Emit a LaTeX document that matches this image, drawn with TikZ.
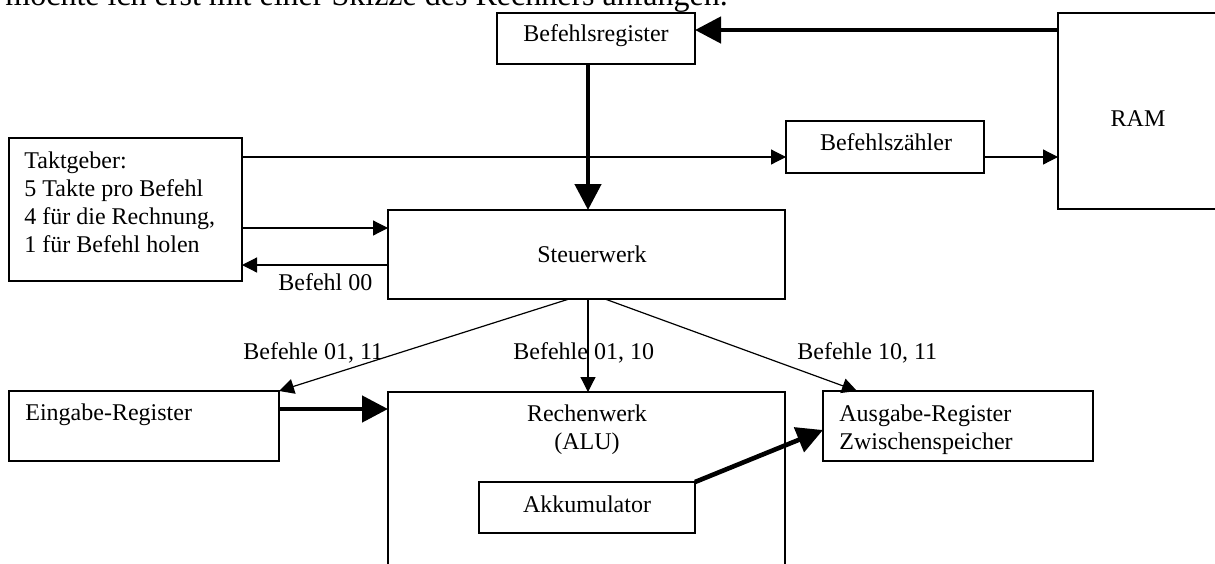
\documentclass[tikz,border=0pt]{standalone}
\usepackage{fontspec}
\setmainfont{Liberation Serif}
\usetikzlibrary{arrows.meta}

\begin{document}
\begin{tikzpicture}[
    x=0.5pt, y=-0.5pt,
    box/.style={draw, line width=0.6pt, inner sep=0pt, outer sep=0pt},
    lbl/.style={font=\fontsize{12}{13.9}\selectfont, inner sep=0pt},
    conn/.style={-{Triangle[length=7.5pt, width=7.5pt]}, line width=0.6pt},
    bus/.style={-{Triangle[length=13pt, width=13pt]}, line width=2.3pt},
]

% === Frame ===
\useasboundingbox (0,0) rectangle (1215,563);
\clip (0,0) rectangle (1215,563);

% cut-off line of running text above the sketch
\node[lbl, font=\fontsize{16}{18}\selectfont, anchor=base west] (intro) at (5,5)
    {möchte ich erst mit einer Skizze des Rechners anfangen.};

% --- Top row ---
\node[box, minimum width=99pt, minimum height=25.5pt] (breg) at (596,38.5) {};
\node[lbl, anchor=base] (bregT) at (596,41) {Befehlsregister};

\node[box, minimum width=83pt, minimum height=98pt] (ram) at (1141,111) {};
\node[lbl, anchor=base] (ramT) at (1138,126) {RAM};

\node[box, minimum width=99pt, minimum height=26pt] (bzaehl) at (885,147) {};
\node[lbl, anchor=base] (bzaehlT) at (886,150) {Befehlszähler};

% --- Middle row ---
\node[box, minimum width=116.5pt, minimum height=71.5pt] (takt) at (125.5,209.5) {};
\node[lbl, anchor=base west, align=left] (taktT) at (24,252)
    {Taktgeber:\\5 Takte pro Befehl\\4 für die Rechnung,\\1 für Befehl holen};

\node[box, minimum width=198.5pt, minimum height=44.5pt] (steuer) at (586.5,254.5) {};
\node[lbl, anchor=base] (steuerT) at (592,262) {Steuerwerk};

% --- Bottom row ---
\node[box, minimum width=135pt, minimum height=35pt] (eingabe) at (144,426) {};
\node[lbl, anchor=base west] (eingabeT) at (25,420) {Eingabe-Register};

\node[box, minimum width=198.5pt, minimum height=104pt] (rechen) at (586.5,496) {};
\node[lbl, anchor=base, align=center] (rechenT) at (587,449) {Rechenwerk\\(ALU)};

\node[box, minimum width=108pt, minimum height=25.5pt] (akku) at (587,507.5) {};
\node[lbl, anchor=base] (akkuT) at (587,512) {Akkumulator};

\node[box, minimum width=135pt, minimum height=35pt] (ausgabe) at (958,426) {};
\node[lbl, anchor=base west, align=left] (ausgabeT) at (839,449)
    {Ausgabe-Register\\Zwischenspeicher};

% --- Labels ---
\node[lbl, anchor=base west] (b00) at (278,290) {Befehl 00};
\node[lbl, anchor=base west] (b0111) at (243,359) {Befehle 01, 11};
\node[lbl, anchor=base west] (b0110) at (513,359) {Befehle 01, 10};
\node[lbl, anchor=base west] (b1011) at (797,359) {Befehle 10, 11};

% --- Connections ---
% wide buses
\draw[bus] ([yshift=4.25pt]ram.north west |- breg.east) -- ([yshift=4.25pt]breg.east);
\draw[bus] ([xshift=-4pt]breg.south) -- ([xshift=-4pt]breg.south |- steuer.north);
\draw[bus] ([yshift=8.5pt]eingabe.east) -- ([yshift=8.5pt]rechen.west |- eingabe.east);
\draw[bus] (akku.north east) -- ([yshift=-2pt]ausgabe.west);

% clock and counter
\draw[conn] ([yshift=-5pt]takt.east |- bzaehl.west) -- ([yshift=-5pt]bzaehl.west);
\draw[conn] ([yshift=-5pt]bzaehl.east) -- ([yshift=-5pt]ram.west |- bzaehl.east);
\draw[conn] ([yshift=13.25pt]takt.east |- steuer.west) -- ([yshift=13.25pt]steuer.west);
\draw[conn] ([yshift=-5.25pt]steuer.west) -- ([yshift=-5.25pt]takt.east |- steuer.west);

% control lines
\draw[conn] ([xshift=-8.75pt]steuer.south) -- (eingabe.north east);
\draw[conn] ([xshift=0.75pt]steuer.south) -- ([xshift=0.75pt]steuer.south |- rechen.north);
\draw[conn] ([xshift=9.25pt]steuer.south) -- ([xshift=17pt]ausgabe.north west);

\end{tikzpicture}
\end{document}
